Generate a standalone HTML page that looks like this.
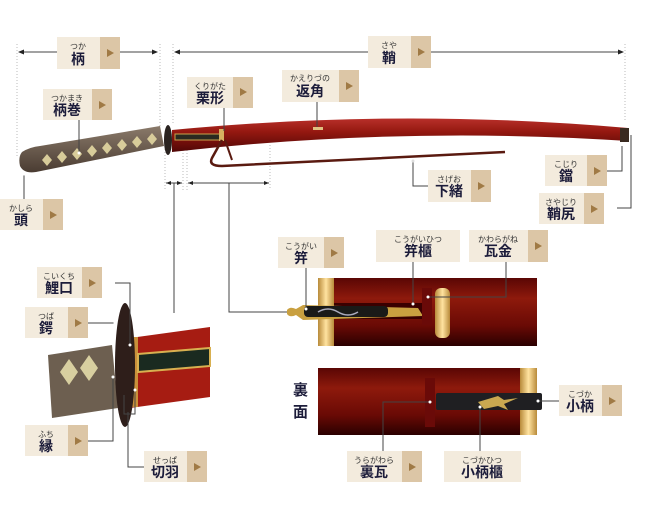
<!DOCTYPE html>
<html><head><meta charset="utf-8"><style>
html,body{margin:0;padding:0;background:#fff;}
svg{display:block;}
.f{font-family:"Liberation Sans","Noto Sans CJK JP",sans-serif;font-size:8px;fill:#333;}
.k{font-family:"Liberation Sans","Noto Sans CJK JP",sans-serif;font-size:14px;font-weight:bold;fill:#1c1c3a;}
.ln{stroke:#444;stroke-width:1;fill:none;}
.dt{stroke:#bbb;stroke-width:1;stroke-dasharray:1,2;fill:none;}
</style></head><body>
<svg width="650" height="521" viewBox="0 0 650 521" xmlns="http://www.w3.org/2000/svg">
<defs>
<linearGradient id="red" x1="0" y1="0" x2="0" y2="1">
<stop offset="0" stop-color="#5a0604"/><stop offset="0.3" stop-color="#8e1a0c"/><stop offset="0.7" stop-color="#6a0a05"/><stop offset="1" stop-color="#2a0000"/></linearGradient>
<linearGradient id="gold" x1="0" y1="0" x2="1" y2="0">
<stop offset="0" stop-color="#b88a3a"/><stop offset="0.5" stop-color="#ffe3a0"/><stop offset="1" stop-color="#b88a3a"/></linearGradient>
<linearGradient id="sred" x1="0" y1="0" x2="0" y2="1">
<stop offset="0" stop-color="#b8302a"/><stop offset="0.4" stop-color="#941810"/><stop offset="1" stop-color="#500606"/></linearGradient>
<linearGradient id="hdl" x1="0" y1="0" x2="0" y2="1">
<stop offset="0" stop-color="#8a7a6a"/><stop offset="1" stop-color="#4a3c32"/></linearGradient>
<g id="tri"><polygon points="0,-4 7,0 0,4" fill="#a07a45"/></g>
</defs>

<line class="dt" x1="17" y1="44" x2="17" y2="158"/>
<line class="dt" x1="160" y1="44" x2="160" y2="130"/>
<line class="dt" x1="173" y1="44" x2="173" y2="125"/>
<line class="dt" x1="625" y1="44" x2="625" y2="122"/>
<line class="ln" x1="20" y1="52" x2="57" y2="52"/><line class="ln" x1="120" y1="52" x2="156" y2="52"/>
<polygon points="18,52 24,49.5 24,54.5" fill="#222"/><polygon points="158,52 152,49.5 152,54.5" fill="#222"/>
<line class="ln" x1="176" y1="52" x2="368" y2="52"/><line class="ln" x1="431" y1="52" x2="622" y2="52"/>
<polygon points="174,52 180,49.5 180,54.5" fill="#222"/><polygon points="624,52 618,49.5 618,54.5" fill="#222"/>

<line class="dt" x1="165" y1="140" x2="165" y2="190"/>
<line class="dt" x1="183" y1="150" x2="183" y2="190"/>
<line class="dt" x1="187" y1="150" x2="187" y2="190"/>
<line class="dt" x1="270" y1="145" x2="270" y2="190"/>
<line class="ln" x1="166" y1="183" x2="182" y2="183"/>
<polygon points="166,183 171,181 171,185" fill="#222"/><polygon points="182,183 177,181 177,185" fill="#222"/>
<line class="ln" x1="188" y1="183" x2="269" y2="183"/>
<polygon points="188,183 193,181 193,185" fill="#222"/><polygon points="269,183 264,181 264,185" fill="#222"/>
<polyline class="ln" points="174,183 174,313"/>
<polyline class="ln" points="229,183 229,312 290,312"/>

<!-- handle -->
<path d="M22,152 Q30,147 40,146 L160,126 L164,146 L36,172 Q24,174 20,166 Q18,157 22,152 Z" fill="url(#hdl)"/>
<g fill="#d8cc9a">
<path d="M42,160 l5,-6 l5,6 l-5,6z"/><path d="M57,157 l5,-6 l5,6 l-5,6z"/><path d="M72,154 l5,-6 l5,6 l-5,6z"/><path d="M87,151 l5,-6 l5,6 l-5,6z"/><path d="M102,148 l5,-6 l5,6 l-5,6z"/><path d="M117,145 l5,-6 l5,6 l-5,6z"/><path d="M132,142 l5,-6 l5,6 l-5,6z"/><path d="M147,139 l5,-6 l5,6 l-5,6z"/>
</g>
<ellipse cx="168" cy="140" rx="4" ry="15" fill="#2a2320"/>
<!-- saya -->
<path d="M172,130 Q400,108 628,128 L628,141 Q400,126 172,152 Z" fill="url(#sred)"/>
<rect x="620" y="128" width="9" height="14" fill="#3a2a20"/>
<rect x="175" y="134" width="45" height="6" fill="#2a2a20" stroke="#c9a24a" stroke-width="1"/>
<rect x="219" y="129" width="5" height="12" fill="#d6b060"/>
<rect x="313" y="127" width="10" height="3" fill="#e0c080"/>
<path d="M222,140 L212,158 Q208,166 222,166 L505,152" stroke="#5a1a10" stroke-width="2.5" fill="none"/>
<path d="M225,140 L232,160" stroke="#5a1a10" stroke-width="2" fill="none"/>

<line class="ln" x1="79" y1="120" x2="79" y2="153"/><circle cx="79" cy="153" r="1.5" fill="#fff"/>
<line class="ln" x1="224" y1="108" x2="224" y2="131"/>
<line class="ln" x1="317" y1="102" x2="317" y2="127"/>
<line class="ln" x1="24" y1="174" x2="24" y2="199"/><circle cx="24" cy="174" r="1.5" fill="#fff"/>
<polyline class="ln" points="413,162 413,186 428,186"/><circle cx="413" cy="161" r="1.5" fill="#ddd"/>
<polyline class="ln" points="622,146 622,171 607,171"/>
<polyline class="ln" points="631,135 631,208 617,208"/>

<!-- panel 1 -->
<rect x="318" y="278" width="219" height="68" fill="url(#red)"/>
<rect x="318" y="278" width="16" height="68" fill="url(#gold)"/>
<rect x="334" y="303" width="90" height="16" fill="#3a0000"/>
<path d="M287,310 Q290,306 296,309 L303,305 L418,308 L423,316 L303,320 L296,315 Q290,318 287,314Z" fill="#c9a040"/>
<rect x="304" y="306" width="84" height="11" rx="4" fill="#1a1a18"/>
<path d="M318,312 q10,-6 20,0 q10,6 20,0" stroke="#aab" stroke-width="1.5" fill="none"/>
<rect x="422" y="288" width="10" height="37" fill="#6a0a08"/>
<rect x="435" y="288" width="15" height="50" rx="6" fill="url(#gold)"/>
<line class="ln" x1="306" y1="268" x2="306" y2="309"/><circle cx="306" cy="309" r="1.5" fill="#fff"/>
<line class="ln" x1="413" y1="262" x2="413" y2="304"/><circle cx="413" cy="304" r="1.5" fill="#fff"/>
<polyline class="ln" points="506,262 506,297 428,297"/><circle cx="428" cy="297" r="1.5" fill="#fff"/>

<!-- panel 2 -->
<rect x="318" y="368" width="219" height="67" fill="url(#red)"/>
<rect x="520" y="368" width="17" height="67" fill="url(#gold)"/>
<rect x="425" y="378" width="10" height="49" fill="#6a0a08"/>
<rect x="436" y="393" width="106" height="17" rx="2" fill="#1f1f22"/>
<path d="M478,402 l20,-6 l6,4 l14,-2 l-14,6 l4,6 l-10,-4 l-14,3z" fill="#c9a850"/>
<text x="293" y="395" class="k" style="font-size:15px">裏</text>
<text x="293" y="417" class="k" style="font-size:15px">面</text>
<line class="ln" x1="538" y1="401" x2="559" y2="401"/><circle cx="538" cy="401" r="1.5" fill="#fff"/>
<polyline class="ln" points="430,402 383,402 383,451"/><circle cx="430" cy="402" r="1.5" fill="#fff"/>
<line class="ln" x1="480" y1="407" x2="480" y2="451"/><circle cx="480" cy="407" r="1.5" fill="#fff"/>

<!-- closeup -->
<path d="M48,355 L112,345 L118,408 L52,418Z" fill="#6d5f50"/>
<path d="M60,372 l9,-13 l9,13 l-9,13z M80,368 l9,-13 l9,13 l-9,13z" fill="#d8cfa0"/>
<path d="M130,338 L210,327 L210,397 L130,408Z" fill="#a61c12"/>
<rect x="130" y="337" width="8" height="70" fill="#c9903a"/>
<path d="M138,354 L210,348 L210,366 L138,372Z" fill="#1a2a20" stroke="#d8b050" stroke-width="2"/>
<ellipse cx="125" cy="365" rx="10" ry="62" fill="#2e1e1a"/>
<polyline class="ln" points="115,283 130,283 130,345"/><circle cx="130" cy="345" r="1.5" fill="#fff"/>
<line class="ln" x1="88" y1="323" x2="115" y2="323"/><circle cx="115" cy="323" r="1.5" fill="#fff"/>
<polyline class="ln" points="88,441 113,441 113,377"/><circle cx="113" cy="377" r="1.5" fill="#fff"/>
<polyline class="ln" points="144,467 128,467 128,412"/>
<polyline class="ln" points="124,395 124,414 135,414 135,390"/><circle cx="135" cy="390" r="1.5" fill="#fff"/>

<g>
<rect x="57" y="37" width="43" height="32" fill="#f3ebdd"/><rect x="100" y="37" width="20" height="32" fill="#dcc6a6"/><use href="#tri" x="107" y="53"/>
<text x="78" y="49" class="f" text-anchor="middle">つか</text><text x="78" y="64" class="k" text-anchor="middle">柄</text>

<rect x="368" y="36" width="43" height="32" fill="#f3ebdd"/><rect x="411" y="36" width="20" height="32" fill="#dcc6a6"/><use href="#tri" x="418" y="52"/>
<text x="389" y="48" class="f" text-anchor="middle">さや</text><text x="389" y="63" class="k" text-anchor="middle">鞘</text>

<rect x="43" y="89" width="49" height="31" fill="#f3ebdd"/><rect x="92" y="89" width="20" height="31" fill="#dcc6a6"/><use href="#tri" x="99" y="105"/>
<text x="67" y="101" class="f" text-anchor="middle">つかまき</text><text x="67" y="115" class="k" text-anchor="middle">柄巻</text>

<rect x="187" y="77" width="46" height="31" fill="#f3ebdd"/><rect x="233" y="77" width="20" height="31" fill="#dcc6a6"/><use href="#tri" x="240" y="92"/>
<text x="210" y="89" class="f" text-anchor="middle">くりがた</text><text x="210" y="103" class="k" text-anchor="middle">栗形</text>

<rect x="282" y="70" width="57" height="32" fill="#f3ebdd"/><rect x="339" y="70" width="20" height="32" fill="#dcc6a6"/><use href="#tri" x="346" y="86"/>
<text x="310" y="81" class="f" text-anchor="middle">かえりづの</text><text x="310" y="96" class="k" text-anchor="middle">返角</text>

<rect x="0" y="199" width="43" height="31" fill="#f3ebdd"/><rect x="43" y="199" width="20" height="31" fill="#dcc6a6"/><use href="#tri" x="50" y="215"/>
<text x="21" y="211" class="f" text-anchor="middle">かしら</text><text x="21" y="225" class="k" text-anchor="middle">頭</text>

<rect x="428" y="170" width="43" height="32" fill="#f3ebdd"/><rect x="471" y="170" width="20" height="32" fill="#dcc6a6"/><use href="#tri" x="478" y="186"/>
<text x="449" y="182" class="f" text-anchor="middle">さげお</text><text x="449" y="196" class="k" text-anchor="middle">下緒</text>

<rect x="545" y="155" width="42" height="31" fill="#f3ebdd"/><rect x="587" y="155" width="20" height="31" fill="#dcc6a6"/><use href="#tri" x="594" y="171"/>
<text x="566" y="167" class="f" text-anchor="middle">こじり</text><text x="566" y="181" class="k" text-anchor="middle">鐺</text>

<rect x="539" y="193" width="45" height="31" fill="#f3ebdd"/><rect x="584" y="193" width="20" height="31" fill="#dcc6a6"/><use href="#tri" x="591" y="209"/>
<text x="561" y="205" class="f" text-anchor="middle">さやじり</text><text x="561" y="219" class="k" text-anchor="middle">鞘尻</text>

<rect x="278" y="237" width="46" height="31" fill="#f3ebdd"/><rect x="324" y="237" width="20" height="31" fill="#dcc6a6"/><use href="#tri" x="331" y="253"/>
<text x="301" y="249" class="f" text-anchor="middle">こうがい</text><text x="301" y="263" class="k" text-anchor="middle">笄</text>

<rect x="376" y="230" width="84" height="32" fill="#f3ebdd"/>
<text x="418" y="242" class="f" text-anchor="middle">こうがいひつ</text><text x="418" y="256" class="k" text-anchor="middle">笄櫃</text>

<rect x="469" y="230" width="59" height="32" fill="#f3ebdd"/><rect x="528" y="230" width="20" height="32" fill="#dcc6a6"/><use href="#tri" x="535" y="246"/>
<text x="498" y="242" class="f" text-anchor="middle">かわらがね</text><text x="498" y="256" class="k" text-anchor="middle">瓦金</text>

<rect x="559" y="385" width="43" height="31" fill="#f3ebdd"/><rect x="602" y="385" width="20" height="31" fill="#dcc6a6"/><use href="#tri" x="609" y="401"/>
<text x="580" y="397" class="f" text-anchor="middle">こづか</text><text x="580" y="411" class="k" text-anchor="middle">小柄</text>

<rect x="347" y="451" width="55" height="31" fill="#f3ebdd"/><rect x="402" y="451" width="20" height="31" fill="#dcc6a6"/><use href="#tri" x="409" y="467"/>
<text x="374" y="463" class="f" text-anchor="middle">うらがわら</text><text x="374" y="477" class="k" text-anchor="middle">裏瓦</text>

<rect x="444" y="451" width="77" height="31" fill="#f3ebdd"/>
<text x="482" y="463" class="f" text-anchor="middle">こづかひつ</text><text x="482" y="477" class="k" text-anchor="middle">小柄櫃</text>

<rect x="37" y="267" width="45" height="31" fill="#f3ebdd"/><rect x="82" y="267" width="20" height="31" fill="#dcc6a6"/><use href="#tri" x="89" y="283"/>
<text x="59" y="279" class="f" text-anchor="middle">こいくち</text><text x="59" y="293" class="k" text-anchor="middle">鯉口</text>

<rect x="25" y="307" width="43" height="31" fill="#f3ebdd"/><rect x="68" y="307" width="20" height="31" fill="#dcc6a6"/><use href="#tri" x="75" y="323"/>
<text x="46" y="319" class="f" text-anchor="middle">つば</text><text x="46" y="333" class="k" text-anchor="middle">鍔</text>

<rect x="25" y="425" width="43" height="31" fill="#f3ebdd"/><rect x="68" y="425" width="20" height="31" fill="#dcc6a6"/><use href="#tri" x="75" y="441"/>
<text x="46" y="437" class="f" text-anchor="middle">ふち</text><text x="46" y="451" class="k" text-anchor="middle">縁</text>

<rect x="144" y="451" width="43" height="31" fill="#f3ebdd"/><rect x="187" y="451" width="20" height="31" fill="#dcc6a6"/><use href="#tri" x="194" y="467"/>
<text x="165" y="463" class="f" text-anchor="middle">せっぱ</text><text x="165" y="477" class="k" text-anchor="middle">切羽</text>
</g>
</svg>
</body></html>
